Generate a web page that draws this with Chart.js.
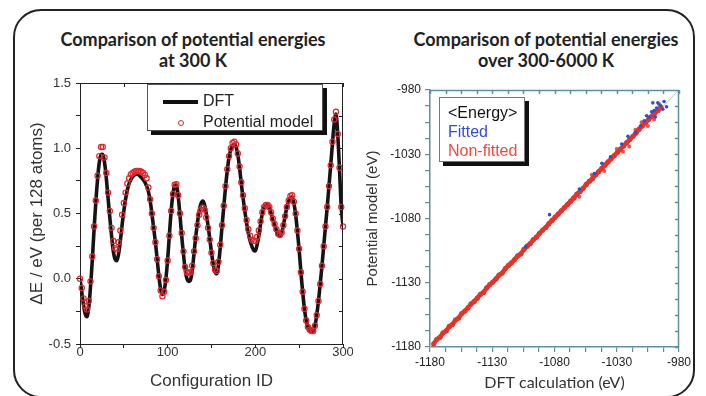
<!DOCTYPE html>
<html><head><meta charset="utf-8">
<script src="https://cdn.jsdelivr.net/npm/chart.js@4.4.1/dist/chart.umd.min.js"></script>
<style>
html,body{margin:0;padding:0;background:#fff;}
#wrap{position:relative;width:706px;height:396px;overflow:hidden;background:#fff;}
#frame{position:absolute;left:13px;top:9px;width:682px;height:389px;border:2px solid #222;border-radius:28px;box-sizing:border-box;}
.ttl{position:absolute;top:29px;font-family:Lato,'Open Sans',sans-serif;font-weight:700;font-size:18px;color:#222;text-align:center;line-height:21px;}
canvas{position:absolute;top:0;}
.leg{position:absolute;background:#fff;box-sizing:border-box;font-family:'Liberation Sans',Arial,sans-serif;font-size:16px;color:#222;}
.leg span{position:absolute;white-space:nowrap;}
</style></head>
<body><div id="wrap">
<div id="frame"></div>
<div class="ttl" style="left:0;width:386px;">Comparison of potential energies<br>at 300 K</div>
<div class="ttl" style="left:386px;width:320px;">Comparison of potential energies<br>over 300-6000 K</div>
<canvas id="left" width="353" height="396" style="left:0"></canvas>
<canvas id="right" width="353" height="396" style="left:353px"></canvas>
<div class="leg" style="left:147px;top:84px;width:176px;height:47px;border:1px solid #555;box-shadow:4px 4px 0 #111;">
  <div style="position:absolute;left:15px;top:15px;width:35px;height:4px;background:#111;"></div>
  <span style="left:55px;top:7px;">DFT</span>
  <div style="position:absolute;left:30px;top:35px;width:4px;height:4px;border:1px solid #e3262b;border-radius:50%;"></div>
  <span style="left:55px;top:28px;">Potential model</span>
</div>
<div class="leg" style="left:439px;top:97px;width:86px;height:65px;border:1px solid #777;box-shadow:4px 4px 0 #111;line-height:19.5px;">
  <span style="left:8px;top:5px;color:#111;">&lt;Energy&gt;</span>
  <span style="left:8px;top:24px;color:#2f4fd0;">Fitted</span>
  <span style="left:8px;top:43px;color:#ef4a3a;">Non-fitted</span>
</div>
</div>
<script>
// ---------- Left panel data ----------
const configIds = [0,2,4,6,8,10,12,14,16,18,20,22,24,26,28,30,32,34,36,38,40,42,44,46,48,50,52,54,56,58,60,62,64,66,68,70,72,74,76,78,80,82,84,86,88,90,92,94,96,98,100,102,104,106,108,110,112,114,116,118,120,122,124,126,128,130,132,134,136,138,140,142,144,146,148,150,152,154,156,158,160,162,164,166,168,170,172,174,176,178,180,182,184,186,188,190,192,194,196,198,200,202,204,206,208,210,212,214,216,218,220,222,224,226,228,230,232,234,236,238,240,242,244,246,248,250,252,254,256,258,260,262,264,266,268,270,272,274,276,278,280,282,284,286,288,290,292,294,296,298,300];
const dftEnergy = [0.00,-0.10,-0.20,-0.27,-0.29,-0.22,-0.06,0.14,0.37,0.58,0.76,0.89,0.95,0.95,0.89,0.77,0.62,0.47,0.33,0.21,0.15,0.14,0.19,0.29,0.41,0.52,0.61,0.68,0.73,0.76,0.78,0.795,0.80,0.80,0.79,0.775,0.76,0.74,0.71,0.67,0.60,0.50,0.39,0.28,0.15,0.02,-0.08,-0.12,-0.09,0.00,0.15,0.34,0.52,0.65,0.715,0.715,0.63,0.49,0.33,0.19,0.07,0.00,-0.02,-0.01,0.06,0.19,0.32,0.43,0.52,0.575,0.595,0.57,0.50,0.41,0.31,0.20,0.11,0.05,0.04,0.11,0.24,0.40,0.55,0.70,0.83,0.93,0.99,1.02,1.03,1.01,0.95,0.85,0.73,0.62,0.52,0.43,0.35,0.29,0.25,0.22,0.215,0.26,0.33,0.42,0.50,0.55,0.565,0.565,0.54,0.50,0.45,0.41,0.37,0.335,0.33,0.35,0.41,0.48,0.55,0.595,0.62,0.625,0.58,0.49,0.36,0.22,0.05,-0.10,-0.23,-0.32,-0.37,-0.395,-0.40,-0.40,-0.36,-0.28,-0.17,-0.04,0.10,0.25,0.40,0.55,0.71,0.87,1.04,1.19,1.26,1.10,0.84,0.55,0.40];
const modelEnergy = [0.00,-0.07,-0.15,-0.21,-0.235,-0.17,-0.02,0.17,0.40,0.60,0.79,0.94,1.01,1.01,0.93,0.81,0.66,0.52,0.39,0.29,0.235,0.225,0.28,0.37,0.49,0.58,0.66,0.73,0.77,0.80,0.81,0.82,0.826,0.826,0.826,0.82,0.81,0.795,0.77,0.70,0.61,0.50,0.39,0.28,0.15,0.02,-0.09,-0.135,-0.10,-0.01,0.14,0.33,0.52,0.65,0.72,0.725,0.64,0.50,0.35,0.21,0.09,0.05,0.045,0.05,0.10,0.21,0.31,0.41,0.49,0.53,0.545,0.53,0.47,0.39,0.30,0.20,0.12,0.07,0.06,0.13,0.26,0.41,0.56,0.71,0.84,0.94,1.00,1.04,1.05,1.03,0.96,0.86,0.74,0.64,0.54,0.45,0.38,0.33,0.30,0.29,0.29,0.32,0.37,0.44,0.51,0.55,0.565,0.565,0.55,0.51,0.46,0.42,0.38,0.345,0.335,0.355,0.41,0.48,0.55,0.60,0.635,0.64,0.59,0.50,0.37,0.23,0.05,-0.10,-0.23,-0.32,-0.37,-0.39,-0.40,-0.40,-0.36,-0.28,-0.17,-0.04,0.10,0.25,0.40,0.55,0.71,0.87,1.05,1.22,1.28,1.11,0.85,0.55,0.40];
const leftYTicks = [-0.5, 0.0, 0.5, 1.0, 1.5];
const leftXTicks = [0, 100, 200, 300];

// ---------- Right panel data ----------
// Non-fitted: dense band along the diagonal
const nonFittedDFT = [-1177,-1174.5,-1172,-1169.5,-1167,-1164.5,-1162,-1159.5,-1157,-1154.5,-1152,-1149.5,-1147,-1144.5,-1142,-1139.5,-1137,-1134.5,-1132,-1129.5,-1127,-1124.5,-1122,-1119.5,-1117,-1114.5,-1112,-1109.5,-1107,-1104.5,-1102,-1099.5,-1097,-1094.5,-1092,-1089.5,-1087,-1084.5,-1082,-1079.5,-1077,-1074.5,-1072,-1069.5,-1067,-1064.5,-1062,-1059.5,-1057,-1054.5,-1052,-1049.5,-1047,-1044.5,-1042,-1039.5,-1037,-1034.5,-1032,-1029.5,-1027,-1024.5,-1022,-1019.5,-1017,-1014.5,-1012,-1009.5,-1007,-1004.5,-1002,-999.5,-997,-994.5];
const nonFittedModel = [-1177.5,-1174,-1172.5,-1169,-1167.5,-1164,-1162.5,-1159,-1157.5,-1154,-1152,-1149.5,-1146.5,-1144.5,-1142,-1139,-1137.5,-1134,-1131.5,-1129.5,-1127,-1124,-1122.5,-1119,-1116.5,-1114.5,-1112,-1109,-1107.5,-1104,-1101.5,-1099.5,-1096.5,-1094.5,-1091.5,-1089,-1087,-1084,-1081.5,-1079,-1076.5,-1074,-1071.5,-1069,-1066.5,-1064,-1061,-1059,-1056.5,-1053.5,-1051,-1049,-1046,-1043.5,-1041,-1038.5,-1036,-1033.5,-1031,-1028.5,-1026,-1023.5,-1021,-1018.5,-1016,-1013.5,-1010.5,-1008,-1005.5,-1003,-1000.5,-998,-996,-993.5];
// Non-fitted: points scattered off the band
const nonFittedOffDFT = [-1040,-1030,-1020,-1010,-1000,-996,-1060,-1005,-1015,-1050,-1025];
const nonFittedOffModel = [-1043,-1026,-1024,-1005,-1003,-991,-1063,-1008,-1011,-1046,-1028];
const fittedDFT = [-992,-995,-998,-1000,-1002,-1004,-997,-993,-1006,-1008,-999,-1011,-1015,-1021,-1026,-1035,-1042,-1048,-1084,-1103,-1060,-1001,-990];
const fittedModel = [-989,-992,-994,-996,-997,-1001,-990,-995,-1000,-1004,-1001,-1008,-1013,-1016,-1022,-1032,-1037,-1045,-1077,-1102,-1057,-990,-993];
const rightTicks = [-1180, -1130, -1080, -1030, -980];

// minor tick helpers (positions of tick marks only)
function subdivide(majors, n) {
  const out = [];
  for (let i = 0; i < majors.length - 1; i++) {
    for (let k = 0; k < n; k++) out.push(majors[i] + (majors[i+1] - majors[i]) * k / n);
  }
  out.push(majors[majors.length - 1]);
  return out;
}

const frameTicks = {
  id: 'frameTicks',
  afterDatasetsDraw(chart, args, opts) {
    const {ctx, chartArea: a, scales} = chart;
    ctx.save();
    ctx.strokeStyle = opts.color;
    ctx.lineWidth = opts.width;
    ctx.beginPath();
    ctx.moveTo(a.left, Math.round(a.top) + 0.5);
    ctx.lineTo(a.right, Math.round(a.top) + 0.5);
    ctx.moveTo(Math.round(a.right) - 0.5, a.top);
    ctx.lineTo(Math.round(a.right) - 0.5, a.bottom);
    for (const t of scales.x.ticks) {
      const px = Math.round(scales.x.getPixelForValue(t.value)) + 0.5;
      ctx.moveTo(px, a.top); ctx.lineTo(px, a.top + opts.len);
    }
    for (const t of scales.y.ticks) {
      const py = Math.round(scales.y.getPixelForValue(t.value)) + 0.5;
      ctx.moveTo(a.right, py); ctx.lineTo(a.right - opts.len, py);
    }
    ctx.stroke();
    ctx.restore();
  }
};
Chart.register(frameTicks);

const arial = 'Liberation Sans, Arial, sans-serif';

new Chart(document.getElementById('left'), {
  type: 'line',
  data: { datasets: [
    { label: 'Potential model', data: configIds.map((x, i) => ({x, y: modelEnergy[i]})),
      showLine: false, pointRadius: 2.6, pointBorderWidth: 1.2, pointBorderColor: '#e3262b',
      pointBackgroundColor: 'rgba(255,255,255,0)', order: 1, clip: 4 },
    { label: 'DFT', data: configIds.map((x, i) => ({x, y: dftEnergy[i]})),
      borderColor: '#141414', borderWidth: 3.6, pointRadius: 0, tension: 0.4, order: 2 }
  ]},
  options: {
    responsive: false, animation: false, events: [], devicePixelRatio: 1,
    layout: { padding: { left: 27, top: 83, right: 10, bottom: 4 } },
    plugins: { legend: { display: false }, tooltip: { enabled: false },
      frameTicks: { color: '#222', width: 1, len: 4 } },
    scales: {
      x: { type: 'linear', min: 0, max: 300,
        afterBuildTicks: s => { s.ticks = subdivide(leftXTicks, 2).map(v => ({value: v})); },
        afterFit: s => { s.height = 48; },
        ticks: { callback: v => leftXTicks.includes(v) ? String(v) : '', font: { family: arial, size: 13 },
          color: '#333', padding: -3, maxRotation: 0, autoSkip: false },
        grid: { drawOnChartArea: false, drawTicks: true, tickLength: 4, color: '#222' },
        border: { display: true, color: '#222', width: 1 },
        title: { display: true, text: 'Configuration ID', font: { family: arial, size: 17 }, color: '#333', padding: 0 }
      },
      y: { type: 'linear', min: -0.5, max: 1.5,
        afterBuildTicks: s => { s.ticks = subdivide(leftYTicks, 2).map(v => ({value: v})); },
        afterFit: s => { s.width = 53; },
        ticks: { callback: v => leftYTicks.includes(v) ? v.toFixed(1) : '', font: { family: arial, size: 13 },
          color: '#333', padding: 5, autoSkip: false },
        grid: { drawOnChartArea: false, drawTicks: true, tickLength: 4, color: '#222' },
        border: { display: true, color: '#222', width: 1 },
        title: { display: true, text: 'ΔE / eV (per 128 atoms)', font: { family: arial, size: 17 }, color: '#333', padding: 0 }
      }
    }
  }
});

const teal = '#5f8f9c';
const red = '#e5332a';
new Chart(document.getElementById('right'), {
  type: 'scatter',
  data: { datasets: [
    { label: 'Fitted', data: fittedDFT.map((x, i) => ({x, y: fittedModel[i]})),
      pointRadius: 1.8, pointBorderWidth: 0, pointBackgroundColor: '#2f4fd0', order: 1 },
    { label: 'Non-fitted', data: nonFittedDFT.map((x, i) => ({x, y: nonFittedModel[i]})),
      showLine: true, borderColor: red, borderWidth: 4.5,
      pointRadius: 2.6, pointBorderWidth: 0, pointBackgroundColor: red, order: 2 },
    { label: 'Non-fitted (off band)', data: nonFittedOffDFT.map((x, i) => ({x, y: nonFittedOffModel[i]})),
      pointRadius: 2, pointBorderWidth: 0, pointBackgroundColor: 'rgba(229,51,42,0.85)', order: 2 },
    { label: 'y=x', data: [{x: rightTicks[0], y: rightTicks[0]}, {x: rightTicks[4], y: rightTicks[4]}],
      showLine: true, borderColor: '#b9c6ca', borderWidth: 1, pointRadius: 0, order: 3 }
  ]},
  options: {
    responsive: false, animation: false, events: [], devicePixelRatio: 1,
    layout: { padding: { left: 11, top: 90, right: 27, bottom: 4 } },
    plugins: { legend: { display: false }, tooltip: { enabled: false },
      frameTicks: { color: teal, width: 1.5, len: 4 } },
    scales: {
      x: { type: 'linear', min: -1180, max: -980,
        afterBuildTicks: s => { s.ticks = subdivide(rightTicks, 4).map(v => ({value: v})); },
        afterFit: s => { s.height = 45; },
        ticks: { callback: v => rightTicks.includes(v) ? String(v) : '', font: { family: arial, size: 12 },
          color: '#222', padding: 3, maxRotation: 0, autoSkip: false },
        grid: { drawOnChartArea: false, drawTicks: true, tickLength: 5, color: teal, lineWidth: 1.2 },
        border: { display: true, color: teal, width: 1.5 },
        title: { display: true, text: 'DFT calculation (eV)', font: { family: 'Lato, Open Sans, sans-serif', size: 16 }, color: '#333', padding: 0 }
      },
      y: { type: 'linear', min: -1180, max: -980,
        afterBuildTicks: s => { s.ticks = subdivide(rightTicks, 4).map(v => ({value: v})); },
        afterFit: s => { s.width = 66; },
        ticks: { callback: v => rightTicks.includes(v) ? String(v) : '', font: { family: arial, size: 12 },
          color: '#222', padding: 4, autoSkip: false },
        grid: { drawOnChartArea: false, drawTicks: true, tickLength: 5, color: teal, lineWidth: 1.2 },
        border: { display: true, color: teal, width: 1.5 },
        title: { display: true, text: 'Potential model (eV)', font: { family: arial, size: 15 }, color: '#333', padding: 0 }
      }
    }
  }
});
</script>
</body></html>
